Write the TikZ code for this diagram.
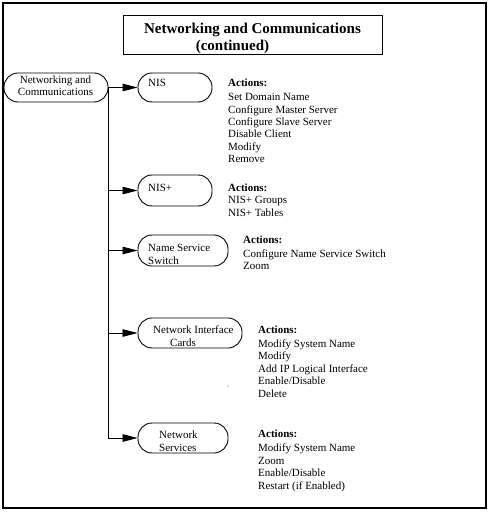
\documentclass[tikz,border=0pt]{standalone}
\usepackage{fontspec}
\setmainfont{Liberation Serif}
\usetikzlibrary{arrows.meta}
\begin{document}
\begin{tikzpicture}[x=1pt,y=-1pt,
  frame/.style={draw, line width=1.5pt, inner sep=0pt},
  titlebox/.style={draw, line width=1pt, inner sep=0pt},
  stage/.style={draw, line width=0.9pt, rounded corners=14pt, inner sep=0pt},
  lbl/.style={inner sep=0pt, align=left, font=\fontsize{11}{12.4}\selectfont},
  ttl/.style={inner sep=0pt, align=center, font=\bfseries\fontsize{15}{16.5}\selectfont},
  link/.style={line width=0.8pt},
  arr/.style={link, -{Triangle[length=15pt,width=7.5pt]}}]
\useasboundingbox (0,0) rectangle (491,518);
% outer frame and title
\node[frame, minimum width=483pt, minimum height=505pt] (frame) at (244.5,255.5) {};
\node[titlebox, minimum width=259pt, minimum height=39pt] (title) at (252.5,35.5) {};
\node[ttl, anchor=north] (title-t) at (252.5,23.3) {Networking and Communications\\\hspace*{-40pt}(continued)};
% boxes
\node[stage, minimum width=104pt, minimum height=29pt] (root) at (56,87.5) {};
\node[stage, minimum width=74pt, minimum height=29pt] (nis) at (175,87.5) {};
\node[stage, minimum width=74pt, minimum height=31pt] (nisp) at (175,190.5) {};
\node[stage, minimum width=90pt, minimum height=31pt] (nss) at (183,250.5) {};
\node[stage, minimum width=104pt, minimum height=30pt] (nic) at (190,333) {};
\node[stage, minimum width=90pt, minimum height=30pt] (ns) at (183,438) {};
% box texts
\node[lbl, align=center, anchor=north] (root-t) at (55.5,75.2) {Networking and\\Communications};
\node[lbl, anchor=base west] (nis-t) at (148,86.5) {NIS};
\node[lbl, anchor=base west] (nisp-t) at (148,191.5) {NIS+};
\node[lbl, anchor=north west] (nss-t) at (148,244.2) {Name Service\\Switch};
\node[lbl, anchor=north west] (nic-t) at (153,325.8) {Network Interface\\\hspace*{17pt}Cards};
\node[lbl, anchor=north west] (ns-t) at (159,430.8) {Network\\Services};
% action lists
\node[lbl, anchor=north west] (nis-a) at (228,78.4) {\textbf{Actions:}\\[2pt]Set Domain Name\\Configure Master Server\\Configure Slave Server\\Disable Client\\Modify\\Remove};
\node[lbl, anchor=north west] (nisp-a) at (228,183.4) {\textbf{Actions:}\\NIS+ Groups\\NIS+ Tables};
\node[lbl, anchor=north west] (nss-a) at (243,235.7) {\textbf{Actions:}\\[1.6pt]Configure Name Service Switch\\Zoom};
\node[lbl, anchor=north west] (nic-a) at (258,325.7) {\textbf{Actions:}\\[1.6pt]Modify System Name\\Modify\\Add IP Logical Interface\\Enable/Disable\\Delete};
\node[lbl, anchor=north west] (ns-a) at (258,430.1) {\textbf{Actions:}\\[1.6pt]Modify System Name\\Zoom\\Enable/Disable\\Restart (if Enabled)};
\fill (228,386) circle (0.5pt);
% connectors
\draw[arr] (root) -- (nis);
\draw[link] (root.east) -- (root.east |- ns.west);
\draw[arr] (root.east |- nisp.west) -- (nisp.west);
\draw[arr] (root.east |- nss.west) -- (nss.west);
\draw[arr] (root.east |- nic.west) -- (nic.west);
\draw[arr] (root.east |- ns.west) -- (ns.west);
\end{tikzpicture}
\end{document}
